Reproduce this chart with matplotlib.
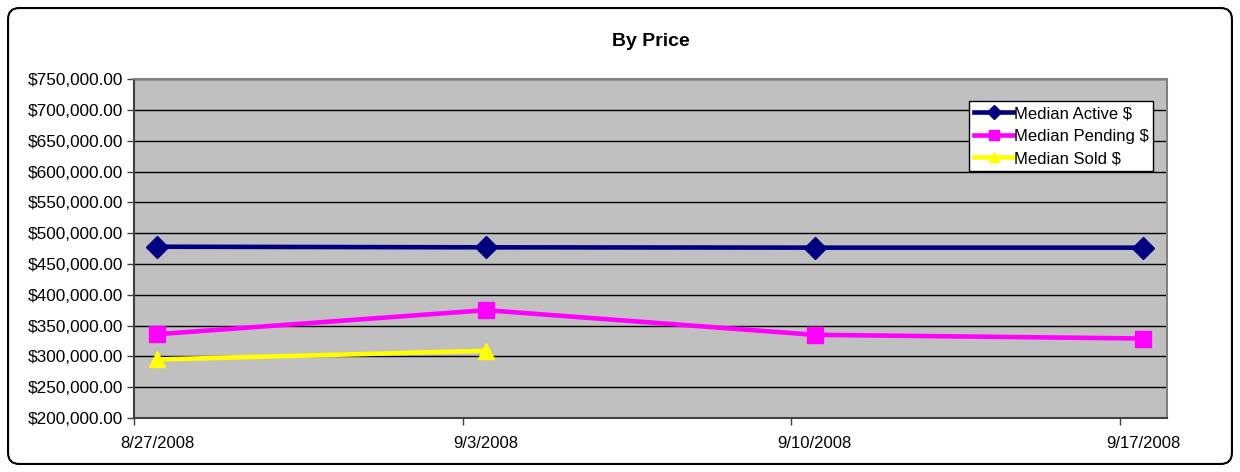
import numpy as np
import pandas as pd
import matplotlib
matplotlib.use("Agg")
import matplotlib.pyplot as plt
from matplotlib.patches import FancyBboxPatch
from matplotlib.ticker import FuncFormatter, FixedLocator

# Data
dates = ["2008-08-27", "2008-09-03", "2008-09-10", "2008-09-17"]
tick_labels = ["8/27/2008", "9/3/2008", "9/10/2008", "9/17/2008"]
median_active = [478000, 477000, 476500, 476500]
median_pending = [336000, 375000, 335000, 329000]
median_sold = [295000, 309000, np.nan, np.nan]

plt.rcParams["font.family"] = ["Liberation Sans", "DejaVu Sans"]

# Excel date axis: each day is a bin, points sit in the middle of their day
d = pd.to_datetime(dates)
day = np.asarray((d - d[0]).days, dtype=float)
x_pts = day + 0.5

fig = plt.figure(figsize=(12.4, 4.72), dpi=100)
ax = fig.add_axes([0.108, 0.1144, 0.833, 0.718])
ax.set_facecolor("#C0C0C0")

ax.plot(x_pts, median_active, color="#000080", lw=3.3, marker="D", ms=11,
        label="Median Active $")
ax.plot(x_pts, median_pending, color="#FF00FF", lw=3.3, marker="s", ms=11,
        label="Median Pending $")
ax.plot(x_pts, median_sold, color="#FFFF00", lw=3.3, marker="^", ms=12,
        label="Median Sold $")

ax.set_xlim(day[0], day[-1] + 1)
ax.set_ylim(200000, 750000)
ax.set_yticks(np.arange(200000, 750001, 50000))
ax.yaxis.set_major_formatter(FuncFormatter(lambda v, p: "${:,.2f}".format(v)))
ax.yaxis.grid(True, color="black", lw=1)
ax.set_axisbelow(True)

# tick marks at day boundaries, labels centred on the day
ax.xaxis.set_major_locator(FixedLocator(day))
ax.xaxis.set_minor_locator(FixedLocator(x_pts))
ax.set_xticklabels([""] * len(day))
ax.set_xticklabels(tick_labels, minor=True)
ax.tick_params(axis="x", which="major", direction="out", length=5, width=1, color="#404040")
ax.tick_params(axis="x", which="minor", length=0, pad=13, labelsize=12)
ax.tick_params(axis="y", direction="out", length=5, width=1, color="#404040", labelsize=12.4, pad=3)

for s in ["left", "bottom"]:
    ax.spines[s].set_color("#404040")
    ax.spines[s].set_linewidth(1.5)
for s in ["top", "right"]:
    ax.spines[s].set_color("#808080")
    ax.spines[s].set_linewidth(1.5)

ax.set_title("By Price", fontsize=14, fontweight="bold", pad=24)

leg = ax.legend(loc="upper right", bbox_to_anchor=(0.987, 0.935), fontsize=12,
                frameon=True, fancybox=False, framealpha=1, edgecolor="black",
                handlelength=2.3, handletextpad=0.05, borderpad=0.3,
                labelspacing=0.45, borderaxespad=0, markerscale=0.65)
leg.get_frame().set_linewidth(1)

border = FancyBboxPatch((0.0065, 0.017), 0.987, 0.966, transform=fig.transFigure,
                        boxstyle="round,pad=0,rounding_size=0.009", fill=False,
                        edgecolor="black", lw=1.5, mutation_aspect=1240 / 472)
fig.patches.append(border)

fig.savefig("out.png", dpi=100)
